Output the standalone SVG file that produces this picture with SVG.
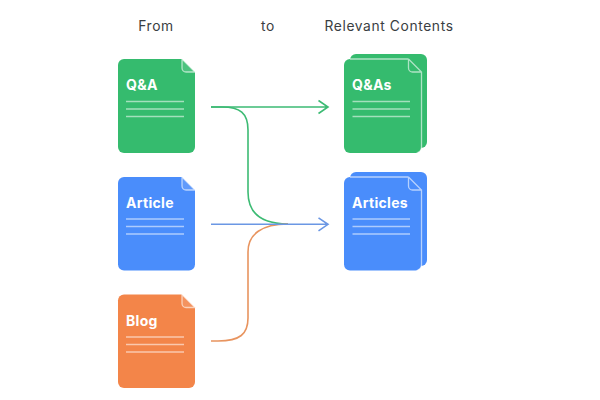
<svg xmlns="http://www.w3.org/2000/svg" width="600" height="400" viewBox="0 0 600 400">
<style>
.h{font-family:"Inter","Liberation Sans",sans-serif;font-size:13.8px;fill:#3a3e42;letter-spacing:.62px}
.l{font-family:"Inter","Liberation Sans",sans-serif;font-size:14px;font-weight:700;fill:#fff;letter-spacing:.3px}
.r{stroke:#fff;stroke-opacity:.55;stroke-width:1.5;fill:none}
.f{fill-opacity:.12;fill:#fff;stroke:#fff;stroke-opacity:.6;stroke-width:1.3}
.e{fill:none;stroke:#fff;stroke-opacity:.6;stroke-width:1.3}
.c{fill:none;stroke-width:1.6}
.g{fill:#35bb6e}.b{fill:#4a8dfb}.o{fill:#f38549}
</style>
<rect width="600" height="400" fill="#fff"/>
<text class="h" x="156" y="31" text-anchor="middle">From</text>
<text class="h" x="268" y="31" text-anchor="middle">to</text>
<text class="h" x="389" y="31" text-anchor="middle">Relevant Contents</text>

<g id="connectors">
<path class="c" stroke="#3dbb74" d="M211 107H222C240 107 248 113 248 130V192C248 214 262 224 288 224"/>
<path class="c" stroke="#e8945f" d="M211 341H218C240 341 248 334 248 318V252C248 234 262 224 288 224"/>
<path class="c" stroke="#3dbb74" d="M211 107H328M318.500 100.500L328 107L318.500 113.500"/>
<path class="c" stroke="#6b97e4" d="M211 224.300H328M318.500 217.800L328 224.300L318.500 230.800"/>
</g>

<g id="node-qa">
<path class="g" d="M124 59H182L195 72V147a6 6 0 0 1-6 6H124a6 6 0 0 1-6-6V65a6 6 0 0 1 6-6Z"/>
<path class="f" d="M182 59L195 72H186a4 4 0 0 1-4-4Z"/>
<path class="r" d="M126 101.500H184M126 109H184M126 116.500H184"/>
<text class="l" x="126" y="90">Q&amp;A</text>
</g>
<g id="node-article">
<path class="b" d="M124 177H182L195 190V264.500a6 6 0 0 1-6 6H124a6 6 0 0 1-6-6V183a6 6 0 0 1 6-6Z"/>
<path class="f" d="M182 177L195 190H186a4 4 0 0 1-4-4Z"/>
<path class="r" d="M126 219H184M126 226.500H184M126 234H184"/>
<text class="l" x="126" y="208">Article</text>
</g>
<g id="node-blog">
<path class="o" d="M124 294.500H182L195 307.500V382a6 6 0 0 1-6 6H124a6 6 0 0 1-6-6V300.500a6 6 0 0 1 6-6Z"/>
<path class="f" d="M182 294.500L195 307.500H186a4 4 0 0 1-4-4Z"/>
<path class="r" d="M126 337H184M126 344.500H184M126 352H184"/>
<text class="l" x="126" y="326">Blog</text>
</g>
<g id="node-qas">
<rect class="g" x="350" y="54" width="77" height="94" rx="6"/>
<path class="g" d="M350 59H408.500L421.500 72V147a6 6 0 0 1-6 6H350a6 6 0 0 1-6-6V65a6 6 0 0 1 6-6Z"/>
<path class="e" d="M408.500 59L421.500 72V147a6 6 0 0 1-4 5.700M408.500 59V68a4 4 0 0 0 4 4H421.500M350 59H408.500"/>
<path class="r" d="M352.500 101.500H410M352.500 109H410M352.500 116.500H410"/>
<text class="l" x="352" y="90">Q&amp;As</text>
</g>
<g id="node-articles">
<rect class="b" x="350" y="172" width="77" height="94" rx="6"/>
<path class="b" d="M350 177H408.500L421.500 190V264.500a6 6 0 0 1-6 6H350a6 6 0 0 1-6-6V183a6 6 0 0 1 6-6Z"/>
<path class="e" d="M408.500 177L421.500 190V264.500a6 6 0 0 1-4 5.700M408.500 177V186a4 4 0 0 0 4 4H421.500M350 177H408.500"/>
<path class="r" d="M352.500 219H410M352.500 226.500H410M352.500 234H410"/>
<text class="l" x="352" y="208">Articles</text>
</g>
</svg>
